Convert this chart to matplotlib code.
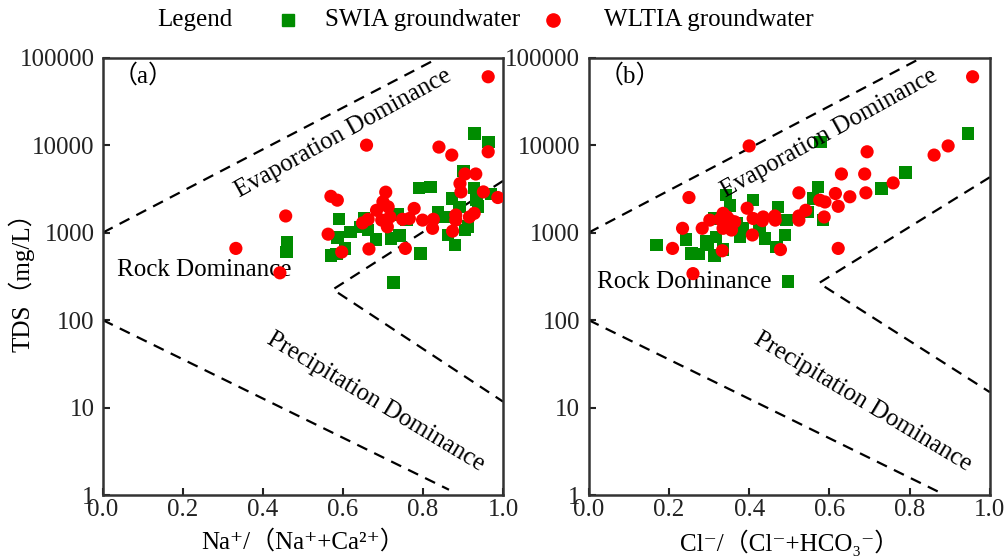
import numpy as np
import matplotlib
matplotlib.use("Agg")
import matplotlib.pyplot as plt
from matplotlib.lines import Line2D

plt.rcParams["font.family"] = ["Liberation Serif", "DejaVu Serif", "Noto Sans CJK SC"]

# ---- datos ----
# (a) Na+/(Na+ + Ca2+) vs TDS
a_swia_x = [0.929, 0.964, 0.901, 0.79, 0.819, 0.9275, 0.97, 0.873, 0.934, 0.938,
            0.891, 0.838, 0.855, 0.736, 0.653, 0.59, 0.619, 0.6425, 0.663, 0.6825,
            0.72, 0.741, 0.586, 0.605, 0.57, 0.584, 0.794, 0.88, 0.863, 0.905,
            0.913, 0.726, 0.759, 0.46, 0.459]
a_swia_tds = [13600, 10900, 5100, 3250, 3330, 3250, 2750, 2460, 2400, 2000,
              1950, 1730, 1510, 1620, 1480, 1430, 1020, 1165, 1070, 830,
              860, 930, 880, 660, 550, 570, 580, 720, 940, 1070,
              1180, 270, 1390, 770, 600]
a_wltia_x = [0.659, 0.84, 0.872, 0.963, 0.570, 0.586, 0.707, 0.70, 0.684, 0.713,
             0.697, 0.7175, 0.711, 0.663, 0.649, 0.563, 0.597, 0.665, 0.756, 0.778,
             0.749, 0.766, 0.799, 0.826, 0.824, 0.874, 0.882, 0.882, 0.8925, 0.895,
             0.905, 0.932, 0.951, 0.987, 0.928, 0.916, 0.3325, 0.457, 0.4425, 0.963]
a_wltia_tds = [10000, 9500, 7700, 8400, 2600, 2350, 2900, 2250, 1800, 1970,
               1390, 1510, 1165, 1420, 1290, 960, 600, 650, 660, 1890,
               1420, 1450, 1390, 1420, 1120, 1040, 1590, 1390, 3640, 2920,
               4680, 4680, 2920, 2520, 1660, 1510, 660, 1550, 347, 60500]

# (b) Cl-/(Cl- + HCO3-) vs TDS
b_swia_x = [0.946, 0.578, 0.79, 0.73, 0.572, 0.559, 0.41, 0.342, 0.352, 0.472,
            0.547, 0.493, 0.584, 0.489, 0.439, 0.468, 0.426, 0.377, 0.385, 0.314,
            0.292, 0.318, 0.335, 0.314, 0.275, 0.256, 0.242, 0.169, 0.497, 0.368,
            0.297, 0.381]
b_swia_tds = [13600, 10900, 4880, 3200, 3330, 2460, 2350, 2690, 2050, 1950,
              1730, 1390, 1390, 940, 860, 690, 1070, 890, 1120, 1450,
              790, 890, 640, 550, 570, 580, 830, 720, 275, 1270,
              720, 1070]
b_wltia_x = [0.957, 0.40, 0.694, 0.861, 0.896, 0.63, 0.688, 0.759, 0.25, 0.524,
             0.615, 0.651, 0.691, 0.576, 0.589, 0.622, 0.587, 0.622, 0.541, 0.524,
             0.524, 0.478, 0.464, 0.465, 0.435, 0.41, 0.408, 0.395, 0.234, 0.209,
             0.26, 0.283, 0.302, 0.333, 0.335, 0.352, 0.364, 0.335, 0.356, 0.343,
             0.327, 0.345, 0.433]
b_wltia_tds = [60500, 9800, 8400, 7700, 9800, 4680, 4680, 3700, 2520, 2850,
               2800, 2570, 2850, 2350, 2240, 2000, 1510, 660, 1800, 1550,
               1390, 640, 1550, 1390, 1510, 1450, 940, 1900, 1120, 660,
               340, 1120, 1390, 620, 1660, 1390, 1330, 1120, 1070, 1270,
               1420, 1510, 1370]

# limites de Gibbs (x, TDS)
a_upper = ([0.0, 0.84], [1000, 100000])
a_right = ([1.0, 0.575, 1.0], [3900, 224, 11.7])
a_lower = ([0.0, 0.865], [100, 1.15])
b_upper = ([0.0, 0.83], [1000, 100000])
b_right = ([1.0, 0.574, 1.0], [4300, 265, 15])
b_lower = ([0.0, 0.87], [100, 1.1])

yticks = [1, 10, 100, 1000, 10000, 100000]
ytick_labels = ["1", "10", "100", "1000", "10000", "100000"]
xticks = [0.0, 0.2, 0.4, 0.6, 0.8, 1.0]

series_names = ["SWIA groundwater", "WLTIA groundwater"]

GREEN = "#008c00"
RED = "#ff0000"
DASH = (0, (5, 3.5))

fig = plt.figure(figsize=(10.08, 5.6), dpi=100)
ax_a = fig.add_axes([0.102, 0.116, 0.397, 0.781])
ax_b = fig.add_axes([0.584, 0.116, 0.398, 0.781])


def style_axis(ax):
    ax.set_yscale("log")
    ax.set_xlim(0, 1)
    ax.set_ylim(1, 100000)
    ax.set_yticks(yticks)
    ax.set_yticklabels(ytick_labels)
    ax.yaxis.set_minor_locator(matplotlib.ticker.NullLocator())
    ax.set_xticks(xticks)
    ax.set_xticklabels([f"{v:.1f}" for v in xticks])
    ax.tick_params(direction="in", length=5, width=1.5, labelsize=18,
                   colors="#222222")
    ax.tick_params(axis="y", pad=6)
    ax.tick_params(axis="x", pad=3)
    for sp in ax.spines.values():
        sp.set_linewidth(1.8)
        sp.set_color("#333333")


def draw_panel(ax, sx, sy, wx, wy, upper, right, lower, tag):
    style_axis(ax)
    for xs, ys in (upper, right, lower):
        ax.plot(xs, ys, color="black", lw=1.6, linestyle=DASH, zorder=2)
    ax.scatter(sx, sy, marker="s", s=80, color=GREEN, edgecolors="none", zorder=3)
    ax.scatter(wx, wy, marker="o", s=90, color=RED, edgecolors="none", zorder=4)
    ax.text(0.025, 63000, f"（{tag}）", fontsize=18, ha="left", va="center")
    ax.text(0.60, 13700, "Evaporation Dominance", fontsize=18, rotation=29,
            ha="center", va="center", rotation_mode="anchor")
    ax.text(0.682, 11.6, "Precipitation Dominance", fontsize=18, rotation=-31,
            ha="center", va="center", rotation_mode="anchor")


draw_panel(ax_a, a_swia_x, a_swia_tds, a_wltia_x, a_wltia_tds,
           a_upper, a_right, a_lower, "a")
draw_panel(ax_b, b_swia_x, b_swia_tds, b_wltia_x, b_wltia_tds,
           b_upper, b_right, b_lower, "b")

ax_a.text(0.035, 373, "Rock Dominance", fontsize=18, ha="left", va="center")
ax_b.text(0.02, 272, "Rock Dominance", fontsize=18, ha="left", va="center")

ax_a.set_ylabel("TDS（mg/L）", fontsize=18)
ax_a.yaxis.set_label_coords(-0.17, 0.5)
ax_a.set_xlabel("Na⁺/（Na⁺+Ca²⁺）", fontsize=18, labelpad=6)
ax_b.set_xlabel("Cl⁻/（Cl⁻+HCO₃⁻）", fontsize=18, labelpad=6)

# leyenda superior (armada a mano para respetar espaciados)
ly = 0.964
fig.text(0.1558, ly, "Legend", fontsize=18, ha="left", va="center")
fig.add_artist(Line2D([0.2857], [ly], transform=fig.transFigure, marker="s",
                      linestyle="none", color=GREEN, markersize=9))
fig.text(0.3224, ly, series_names[0], fontsize=18, ha="left", va="center")
fig.add_artist(Line2D([0.5486], [ly], transform=fig.transFigure, marker="o",
                      linestyle="none", color=RED, markersize=9.5))
fig.text(0.5992, ly, series_names[1], fontsize=18, ha="left", va="center")

fig.savefig("out.png", dpi=100)
